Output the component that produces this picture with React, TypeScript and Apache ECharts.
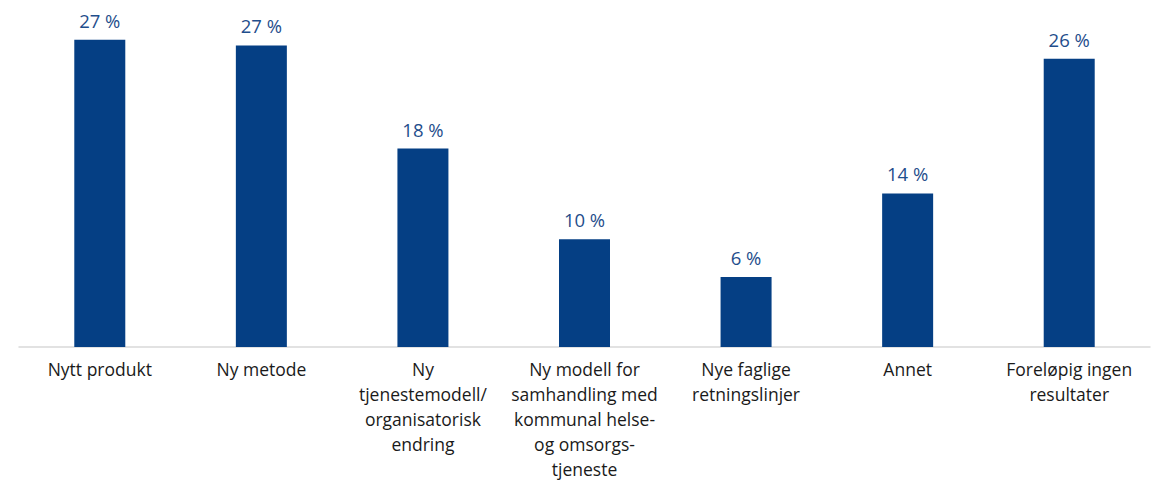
import React, { useEffect, useRef } from "react";
import * as echarts from "echarts";

const categories = [
  "Nytt produkt",
  "Ny metode",
  "Ny\ntjenestemodell/\norganisatorisk\nendring",
  "Ny modell for\nsamhandling med\nkommunal helse-\nog omsorgs-\ntjeneste",
  "Nye faglige\nretningslinjer",
  "Annet",
  "Foreløpig ingen\nresultater",
];
const values = [27.4, 26.9, 17.7, 9.6, 6.25, 13.7, 25.7];

export default function App() {
  const ref = useRef<HTMLDivElement>(null);
  useEffect(() => {
    if (!ref.current) return;
    const chart = echarts.init(ref.current, null, { renderer: "svg" });
    chart.setOption({
      animation: false,
      backgroundColor: "#ffffff",
      grid: { left: 19, right: 15, top: 14, bottom: 139, containLabel: false },
      xAxis: {
        type: "category",
        data: categories,
        axisLine: { show: true, lineStyle: { color: "#d9d9d9", width: 1.5 } },
        axisTick: { show: false },
        axisLabel: {
          interval: 0,
          color: "#1a1a1a",
          fontFamily: "Open Sans",
          fontSize: 17.5,
          lineHeight: 25,
          margin: 9,
        },
      },
      yAxis: {
        type: "value",
        min: 0,
        max: 29.7,
        show: false,
        splitLine: { show: false },
      },
      series: [
        {
          type: "bar",
          data: values,
          barWidth: 51,
          itemStyle: { color: "#053f84" },
          label: {
            show: true,
            position: "top",
            distance: 10,
            color: "#1f4e8c",
            fontFamily: "Open Sans",
            fontSize: 18.5,
            formatter: (p: any) => Math.round(p.value) + " %",
          },
        },
      ],
    });
    return () => chart.dispose();
  }, []);
  return (
    <div
      ref={ref}
      style={{ position: "absolute", left: 0, top: 0, width: 1165, height: 486 }}
    />
  );
}
